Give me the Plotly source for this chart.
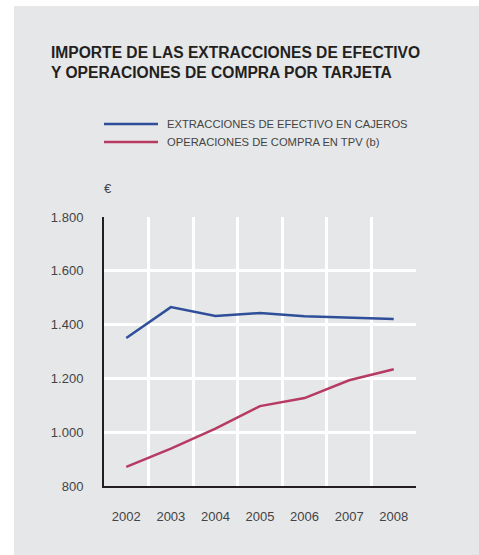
import plotly.graph_objects as go

years = ["2002", "2003", "2004", "2005", "2006", "2007", "2008"]
cajeros = [1350, 1465, 1432, 1443, 1431, 1427, 1421]
tpv = [871, 939, 1013, 1097, 1127, 1193, 1234]
y_ticks = [800, 1000, 1200, 1400, 1600, 1800]
y_labels = ["800", "1.000", "1.200", "1.400", "1.600", "1.800"]
series_names = ["EXTRACCIONES DE EFECTIVO EN CAJEROS", "OPERACIONES DE COMPRA EN TPV (b)"]
title_text = "IMPORTE DE LAS EXTRACCIONES DE EFECTIVO<br>Y OPERACIONES DE COMPRA POR TARJETA"

BLUE = "#2f4f9a"
RED = "#b63a62"
GRAY = "#e6e7e9"
FONT = "Liberation Sans, Arial, sans-serif"

W, H = 479, 555
L, R, T, B = 104, 63, 217, 69
pw, ph = W - L - R, H - T - B

def px(x):
    return (x - L) / pw

def py(y):
    return (H - B - y) / ph

fig = go.Figure()
fig.add_trace(go.Scatter(x=years, y=cajeros, mode="lines", name=series_names[0],
                         line=dict(color=BLUE, width=2.5), showlegend=False))
fig.add_trace(go.Scatter(x=years, y=tpv, mode="lines", name=series_names[1],
                         line=dict(color=RED, width=2.5), showlegend=False))

shapes = [
    dict(type="rect", xref="paper", yref="paper", x0=px(14), x1=px(W + 5), y0=py(H + 5), y1=py(6),
         fillcolor=GRAY, line=dict(width=0), layer="below"),
    dict(type="line", xref="paper", yref="paper", x0=px(104), x1=px(158), y0=py(124), y1=py(124),
         line=dict(color=BLUE, width=2.5)),
    dict(type="line", xref="paper", yref="paper", x0=px(104), x1=px(158), y0=py(142), y1=py(142),
         line=dict(color=RED, width=2.5)),
]

annotations = [
    dict(text="<b>" + title_text + "</b>", xref="paper", yref="paper", x=px(49), y=py(62.5),
         xanchor="left", yanchor="middle", align="left", showarrow=False,
         font=dict(family=FONT, size=15.6, color="#231f20")),
    dict(text=series_names[0], xref="paper", yref="paper", x=px(165), y=py(124),
         xanchor="left", yanchor="middle", showarrow=False,
         font=dict(family=FONT, size=11.2, color="#444444")),
    dict(text=series_names[1], xref="paper", yref="paper", x=px(165), y=py(142),
         xanchor="left", yanchor="middle", showarrow=False,
         font=dict(family=FONT, size=11.2, color="#444444")),
    dict(text="€", xref="paper", yref="paper", x=px(102), y=py(188),
         xanchor="left", yanchor="middle", showarrow=False,
         font=dict(family=FONT, size=13, color="#444444")),
]

fig.update_layout(
    width=W, height=H,
    margin=dict(l=L, r=R, t=T, b=B, pad=0),
    paper_bgcolor="white",
    plot_bgcolor="rgba(0,0,0,0)",
    shapes=shapes,
    annotations=annotations,
    font=dict(family=FONT, size=13, color="#444444"),
    xaxis=dict(type="category", range=[-0.5, 6.5], tickson="boundaries",
               showgrid=True, gridcolor="white", gridwidth=2.5,
               showline=True, linecolor="#231f20", linewidth=2,
               ticks="", ticklabelstandoff=17,
               tickfont=dict(size=13, color="#444444"), zeroline=False, fixedrange=True),
    yaxis=dict(range=[800, 1800], tickvals=y_ticks, ticktext=y_labels,
               showgrid=True, gridcolor="white", gridwidth=2.5,
               showline=True, linecolor="#231f20", linewidth=2,
               ticks="", ticklabelstandoff=16,
               tickfont=dict(size=13, color="#444444"), zeroline=False, fixedrange=True),
)

fig.write_html("out.html", config={"displayModeBar": False},
               post_script="document.body.style.margin='0';document.body.style.overflow='hidden';")
